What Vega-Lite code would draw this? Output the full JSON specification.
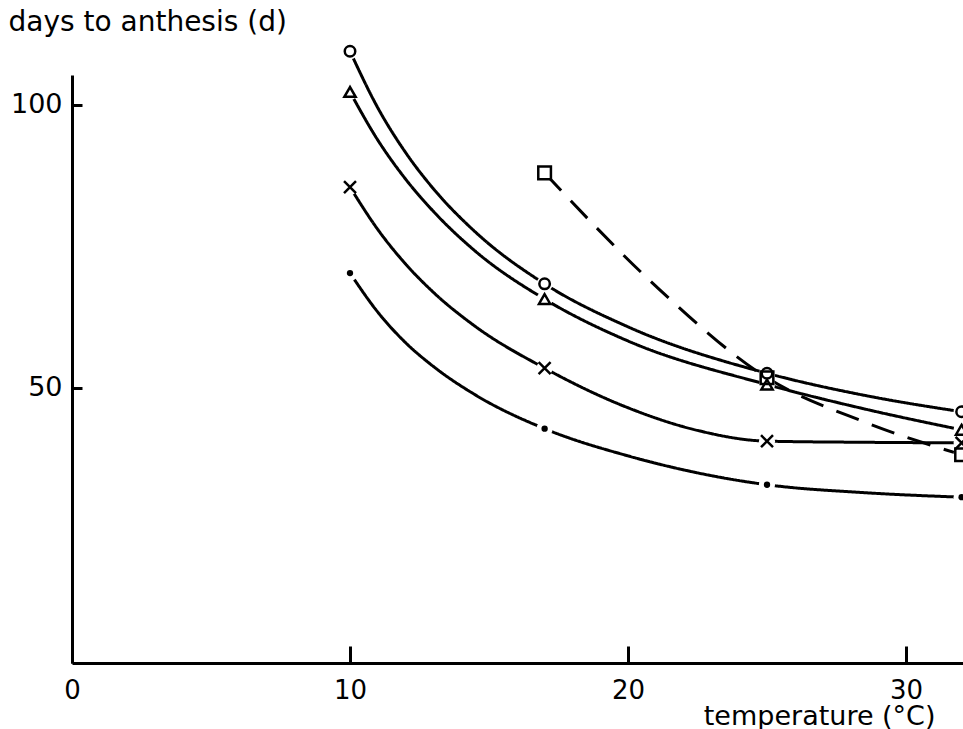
{
  "$schema": "https://vega.github.io/schema/vega-lite/v6.json",
  "width": 891,
  "height": 588,
  "autosize": {"type": "none"},
  "padding": {"left": 72, "top": 75, "right": 0, "bottom": 66},
  "background": "white",
  "config": {
    "view": {"stroke": null},
    "font": "DejaVu Sans",
    "axis": {
      "domainColor": "black",
      "domainWidth": 3,
      "ticks": true,
      "tickColor": "black",
      "tickWidth": 3,
      "grid": false,
      "labelColor": "black",
      "titleColor": "black",
      "labelFont": "DejaVu Sans",
      "titleFont": "DejaVu Sans",
      "labelFontWeight": "normal",
      "titleFontWeight": "normal",
      "labelFlush": false
    }
  },
  "datasets": {
    "points": [
      {"series": "circle", "T": 10, "D": 109.5},
      {"series": "circle", "T": 17, "D": 68.4},
      {"series": "circle", "T": 25, "D": 52.6},
      {"series": "circle", "T": 32, "D": 45.8},
      {"series": "triangle", "T": 10, "D": 102.3},
      {"series": "triangle", "T": 17, "D": 65.7},
      {"series": "triangle", "T": 25, "D": 50.6},
      {"series": "triangle", "T": 32, "D": 42.6},
      {"series": "cross", "T": 10, "D": 85.5},
      {"series": "cross", "T": 17, "D": 53.5},
      {"series": "cross", "T": 25, "D": 40.6},
      {"series": "cross", "T": 32, "D": 40.3},
      {"series": "square", "T": 17, "D": 88.0},
      {"series": "square", "T": 25, "D": 51.8},
      {"series": "square", "T": 32, "D": 38.2},
      {"series": "dot", "T": 10, "D": 70.3},
      {"series": "dot", "T": 17, "D": 42.8},
      {"series": "dot", "T": 25, "D": 32.9},
      {"series": "dot", "T": 32, "D": 30.7}
    ],
    "curves": [
      {"series": "circle", "T": 10, "D": 109.5},
      {"series": "circle", "T": 11, "D": 99.5},
      {"series": "circle", "T": 12, "D": 91.6},
      {"series": "circle", "T": 13, "D": 85.2},
      {"series": "circle", "T": 14.5, "D": 77.6},
      {"series": "circle", "T": 17, "D": 68.4},
      {"series": "circle", "T": 20, "D": 60.8},
      {"series": "circle", "T": 25, "D": 52.6},
      {"series": "circle", "T": 28.5, "D": 48.7},
      {"series": "circle", "T": 32, "D": 45.8},
      {"series": "triangle", "T": 10, "D": 102.3},
      {"series": "triangle", "T": 11, "D": 93.8},
      {"series": "triangle", "T": 12, "D": 86.9},
      {"series": "triangle", "T": 13, "D": 81.2},
      {"series": "triangle", "T": 14.5, "D": 74.2},
      {"series": "triangle", "T": 17, "D": 65.7},
      {"series": "triangle", "T": 20, "D": 58.3},
      {"series": "triangle", "T": 25, "D": 50.6},
      {"series": "triangle", "T": 28.5, "D": 46.3},
      {"series": "triangle", "T": 32, "D": 42.6},
      {"series": "cross", "T": 10, "D": 85.5},
      {"series": "cross", "T": 11, "D": 78.0},
      {"series": "cross", "T": 12, "D": 71.9},
      {"series": "cross", "T": 13, "D": 66.9},
      {"series": "cross", "T": 14.5, "D": 60.9},
      {"series": "cross", "T": 17, "D": 53.5},
      {"series": "cross", "T": 20, "D": 46.5},
      {"series": "cross", "T": 22.5, "D": 42.5},
      {"series": "cross", "T": 25, "D": 40.6},
      {"series": "cross", "T": 28.5, "D": 40.4},
      {"series": "cross", "T": 32, "D": 40.3},
      {"series": "square", "T": 17, "D": 88.0},
      {"series": "square", "T": 21, "D": 68.0},
      {"series": "square", "T": 25, "D": 51.8},
      {"series": "square", "T": 28.5, "D": 44.0},
      {"series": "square", "T": 32, "D": 38.2},
      {"series": "dot", "T": 10, "D": 70.3},
      {"series": "dot", "T": 11, "D": 63.4},
      {"series": "dot", "T": 12, "D": 58.0},
      {"series": "dot", "T": 13, "D": 53.8},
      {"series": "dot", "T": 14.5, "D": 48.8},
      {"series": "dot", "T": 17, "D": 42.8},
      {"series": "dot", "T": 20, "D": 38.0},
      {"series": "dot", "T": 25, "D": 32.9},
      {"series": "dot", "T": 28.5, "D": 31.5},
      {"series": "dot", "T": 32, "D": 30.7}
    ]
  },
  "encoding": {
    "x": {
      "field": "T",
      "type": "quantitative",
      "scale": {"domain": [0, 32.05], "nice": false, "zero": false},
      "axis": {
        "values": [0, 10, 20, 30],
        "tickSize": -17,
        "labelPadding": 31,
        "labelFontSize": 26,
        "labelBaseline": "top",
        "title": "temperature (°C)",
        "titleFontSize": 27,
        "titleAnchor": "end",
        "titleAlign": "right",
        "titleBaseline": "alphabetic",
        "titleX": 863,
        "titleY": 61
      }
    },
    "y": {
      "field": "D",
      "type": "quantitative",
      "scale": {"domain": [1.4, 105.3], "nice": false, "zero": false},
      "axis": {
        "values": [50, 100],
        "tickSize": -10,
        "labelPadding": 20,
        "labelFontSize": 27,
        "title": "days to anthesis (d)",
        "titleFontSize": 28,
        "titleAngle": 0,
        "titleAlign": "left",
        "titleBaseline": "alphabetic",
        "titleX": -64,
        "titleY": -45
      }
    }
  },
  "layer": [
    {
      "data": {"name": "curves"},
      "mark": {"type": "line", "interpolate": "monotone", "color": "black", "strokeWidth": 3},
      "encoding": {
        "detail": {"field": "series"},
        "strokeDash": {
          "field": "series",
          "type": "nominal",
          "scale": {"domain": ["circle", "triangle", "cross", "square", "dot"], "range": [[1, 0], [1, 0], [1, 0], [24, 14], [1, 0]]},
          "legend": null
        }
      }
    },
    {
      "data": {"name": "points"},
      "mark": {"type": "point", "shape": "circle", "filled": true, "color": "white", "opacity": 1, "size": 260}
    },
    {
      "data": {"name": "points"},
      "transform": [{"filter": "datum.series !== 'dot'"}],
      "mark": {"type": "point", "filled": false, "color": "black", "strokeWidth": 2.5, "opacity": 1},
      "encoding": {
        "shape": {
          "field": "series",
          "type": "nominal",
          "scale": {"domain": ["circle", "triangle", "cross", "square"], "range": ["circle", "triangle-up", "M-1,-1L1,1M-1,1L1,-1", "square"]},
          "legend": null
        },
        "size": {
          "field": "series",
          "type": "nominal",
          "scale": {"domain": ["circle", "triangle", "cross", "square"], "range": [110, 160, 120, 110]},
          "legend": null
        }
      }
    },
    {
      "data": {"name": "points"},
      "transform": [{"filter": "datum.series === 'dot'"}],
      "mark": {"type": "point", "shape": "circle", "filled": true, "color": "black", "opacity": 1, "size": 40}
    }
  ]
}
